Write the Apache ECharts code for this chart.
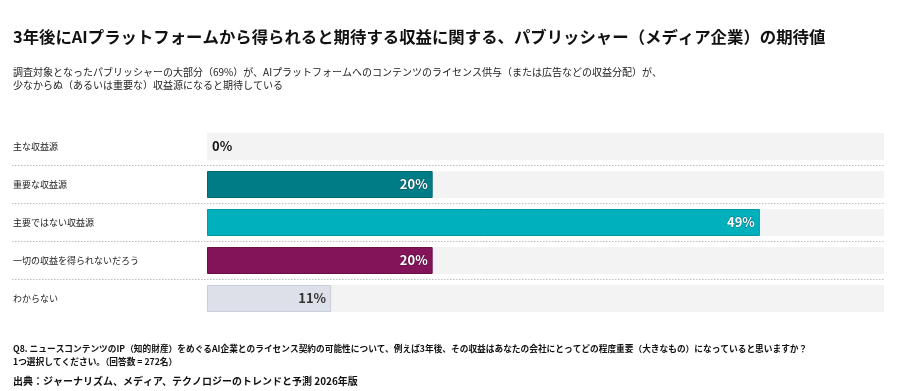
<!DOCTYPE html>
<html><head><meta charset="utf-8">
<script src="https://cdn.jsdelivr.net/npm/echarts@6/dist/echarts.min.js"></script>
<style>html,body{margin:0;padding:0;background:#fff}#c{width:901px;height:391px}</style>
</head><body><div id="c"></div>
<script>
const categories = ['主な収益源', '重要な収益源', '主要ではない収益源', '一切の収益を得られないだろう', 'わからない'];
const values = [0, 20, 49, 20, 11];
const barColors = ['#007c87', '#007c87', '#00b0bd', '#83145a', '#dde0e8'];
const borderColors = ['#006670', '#006670', '#0098a3', '#6a0f48', '#c9cdd8'];
const labelColors = ['#111111', '#ffffff', '#ffffff', '#ffffff', '#333333'];
const xMax = 60;

const FONT = '"Noto Sans CJK JP", "Noto Sans", sans-serif';
const chart = echarts.init(document.getElementById('c'), null, {renderer: 'canvas'});
const barData = values.map((v, i) => ({
  value: v,
  itemStyle: {color: barColors[i], borderColor: borderColors[i], borderWidth: v > 0 ? 1 : 0},
  label: {
    position: v === 0 ? 'insideLeft' : 'insideRight',
    color: labelColors[i],
    textBorderColor: i >= 1 && i <= 3 ? 'rgba(0,0,0,0.35)' : 'transparent',
    textBorderWidth: i >= 1 && i <= 3 ? 1 : 0
  }
}));
chart.setOption({
  backgroundColor: '#fff',
  animation: false,
  textStyle: {fontFamily: FONT},
  title: [
    {text: '3年後にAIプラットフォームから得られると期待する収益に関する、パブリッシャー（メディア企業）の期待値',
     left: 13, top: 29, padding: 0, textStyle: {fontSize: 16.4, fontWeight: 'bold', color: '#111', fontFamily: FONT}},
    {text: '調査対象となったパブリッシャーの大部分（69%）が、AIプラットフォームへのコンテンツのライセンス供与（または広告などの収益分配）が、\n少なからぬ（あるいは重要な）収益源になると期待している',
     left: 13, top: 66, padding: 0, textStyle: {fontSize: 10, fontWeight: 'normal', color: '#222', lineHeight: 13, fontFamily: FONT}},
    {text: 'Q8. ニュースコンテンツのIP（知的財産）をめぐるAI企業とのライセンス契約の可能性について、例えば3年後、その収益はあなたの会社にとってどの程度重要（大きなもの）になっていると思いますか？\n1つ選択してください。（回答数 = 272名）',
     left: 13, top: 342, padding: 0, textStyle: {fontSize: 8.7, fontWeight: 'bold', color: '#111', lineHeight: 13, fontFamily: FONT}},
    {text: '出典：ジャーナリズム、メディア、テクノロジーのトレンドと予測 2026年版',
     left: 13, top: 376, padding: 0, textStyle: {fontSize: 10, fontWeight: 'bold', color: '#111', fontFamily: FONT}}
  ],
  grid: [
    {left: 12, right: 17, top: 165.5, bottom: 111.5},
    {left: 207, right: 17, top: 127.5, bottom: 73.5}
  ],
  xAxis: [
    {gridIndex: 0, type: 'value', min: 0, max: xMax, show: false},
    {gridIndex: 1, type: 'value', min: 0, max: xMax, show: false}
  ],
  yAxis: [
    {gridIndex: 0, type: 'value', min: 1, max: 4, interval: 1,
     axisLine: {show: false}, axisTick: {show: false}, axisLabel: {show: false},
     splitLine: {show: true, lineStyle: {color: '#bdbdbd', type: [1.5, 1.5], width: 1}}},
    {gridIndex: 1, type: 'category', data: categories, inverse: true,
     axisLine: {show: false}, axisTick: {show: false}, splitLine: {show: false},
     axisLabel: {align: 'left', margin: 194, fontSize: 9, color: '#222', fontFamily: FONT}}
  ],
  series: [{
    type: 'bar', xAxisIndex: 1, yAxisIndex: 1,
    data: barData, barWidth: 27,
    showBackground: true,
    backgroundStyle: {color: '#f3f3f3'},
    label: {show: true, formatter: '{c}%', fontSize: 13, fontWeight: 'bold', distance: 5, fontFamily: FONT}
  }]
});
</script></body></html>
